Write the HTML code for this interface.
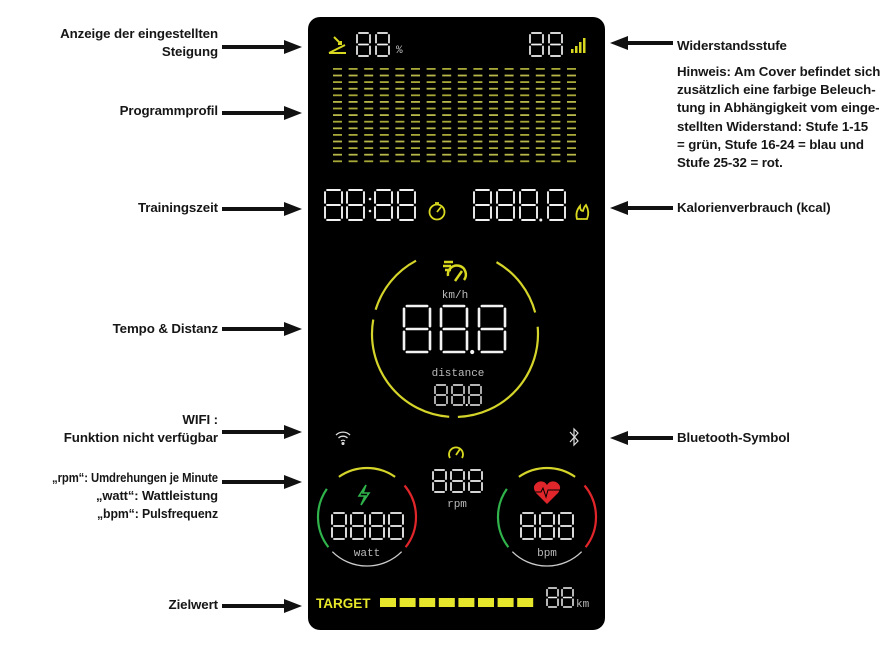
<!DOCTYPE html>
<html><head><meta charset="utf-8"><style>
html,body{margin:0;padding:0;background:#fff;width:895px;height:667px;overflow:hidden}
svg{display:block}
.l{font-family:"Liberation Sans",sans-serif;font-size:13.3px;fill:#161616;font-weight:bold;letter-spacing:-0.1px}
.s{font-family:"Liberation Mono",monospace;fill:#bbb;font-size:11px}
</style></head><body>
<svg id="s" width="895" height="667" viewBox="0 0 895 667">
<g class="l" text-anchor="end">
<text x="218" y="38">Anzeige der eingestellten</text>
<text x="218" y="56">Steigung</text>
<text x="218" y="115">Programmprofil</text>
<text x="218" y="212">Trainingszeit</text>
<text x="218" y="333">Tempo &amp; Distanz</text>
<text x="218" y="424">WIFI :</text>
<text x="218" y="442">Funktion nicht verfügbar</text>
<text x="218" y="482" textLength="166" lengthAdjust="spacingAndGlyphs">„rpm“: Umdrehungen je Minute</text>
<text x="218" y="500" textLength="122" lengthAdjust="spacingAndGlyphs">„watt“: Wattleistung</text>
<text x="218" y="518" textLength="121" lengthAdjust="spacingAndGlyphs">„bpm“: Pulsfrequenz</text>
<text x="218" y="609">Zielwert</text>
</g>
<g class="l">
<text x="677" y="50">Widerstandsstufe</text>
<text x="677" y="76">Hinweis: Am Cover befindet sich</text>
<text x="677" y="94">zusätzlich eine farbige Beleuch-</text>
<text x="677" y="112">tung in Abhängigkeit vom einge-</text>
<text x="677" y="131">stellten Widerstand: Stufe 1-15</text>
<text x="677" y="149">= grün, Stufe 16-24 = blau und</text>
<text x="677" y="167">Stufe 25-32 = rot.</text>
<text x="677" y="212">Kalorienverbrauch (kcal)</text>
<text x="677" y="442">Bluetooth-Symbol</text>
</g>
<g id="arrows" fill="#111"></g>
<rect x="308" y="17" width="297" height="613" rx="12" fill="#000"/>
<g id="prof"></g>
<g id="dig" fill="none" stroke="#f2f2f2" stroke-linecap="round"></g>
<g stroke="#d8d820" stroke-width="2" fill="none">
<path d="M329 53 L346 53 M329 53 L345 45 M334 37 L341 44 M338 44 L341 44 L341 41"/>
</g>
<text x="396" y="53" class="s" font-size="10">%</text>
<g fill="#d8d820"><rect x="571" y="49" width="2.5" height="4"/><rect x="575" y="46" width="2.5" height="7"/><rect x="579" y="42" width="2.5" height="11"/><rect x="583" y="38" width="2.5" height="15"/></g>
<g stroke="#d8d820" stroke-width="1.8" fill="none"><circle cx="437" cy="212" r="7.5"/><path d="M437 212 L441 207 M435 203 L439 203"/></g>
<path d="M577 219 Q575 212 580 206 Q580 211 583 211 Q584 207 586 205 Q590 212 587 219 Z" stroke="#d8d820" stroke-width="1.8" fill="none"/>
<g fill="none" stroke="#d4d42a" stroke-width="2.2">
<path id="c1"/><path id="c2"/><path id="c3"/><path id="c4"/>
</g>
<g stroke="#d8d820" stroke-width="2.5" fill="none"><path d="M444 262 L453 262 M443 266 L451 266 M445 270 L451 270 M448 276 A9 9 0 1 1 464 280 M455 281 L462 271"/></g>
<text x="455" y="298" class="s" text-anchor="middle" font-size="10">km/h</text>
<text x="458" y="376" class="s" text-anchor="middle" font-size="12">distance</text>
<g stroke="#ddd" stroke-width="1.3" fill="none"><path d="M336 435 A10 10 0 0 1 350 435 M338.5 438 A6.5 6.5 0 0 1 347.5 438 M341 441 A3 3 0 0 1 345 441"/><circle cx="343" cy="443.5" r="0.9" fill="#ddd"/></g>
<path d="M570 432 L578 441 L574 445 L574 429 L578 433 L570 442" stroke="#ddd" stroke-width="1.2" fill="none"/>
<g stroke="#d8d820" stroke-width="1.8" fill="none"><path d="M450 458 A7 7 0 1 1 462 458"/><path d="M456 455 L460 449"/></g>
<text x="457" y="507" class="s" text-anchor="middle" font-size="10">rpm</text>
<g fill="none" stroke-width="2.2" id="sc"></g>
<path d="M366 485 L359 496 L365 496 L361 505 L369 493 L363 493 Z" stroke="#2fb34a" stroke-width="1.6" fill="none"/>
<text x="367" y="556" class="s" text-anchor="middle" font-size="12" fill="#ddd">watt</text>
<path d="M547 504 L536 493 Q531 486 538 482 Q544 480 547 485 Q550 480 556 482 Q563 486 558 493 Z" fill="#e0262a"/>
<path d="M533 492 L541 492 L543 488 L546 497 L548 490 L560 490" stroke="#000" stroke-width="1" fill="none"/>
<text x="547" y="556" class="s" text-anchor="middle" font-size="12" fill="#ddd">bpm</text>
<text x="316" y="608" font-family="Liberation Sans,sans-serif" font-weight="bold" font-size="13.5" fill="#e6e62a">TARGET</text>
<g id="tb" fill="#e6e62a"></g>
<text x="576" y="607" class="s" font-size="9" fill="#aaa">km</text>
</svg>
<script>
const NS="http://www.w3.org/2000/svg";
function el(p,t,a){const e=document.createElementNS(NS,t);for(const k in a)e.setAttribute(k,a[k]);p.appendChild(e);return e;}
const ar=document.getElementById('arrows');
[47,113,209,329,432,482,606].forEach(y=>{el(ar,'rect',{x:222,y:y-2,width:64,height:4});el(ar,'path',{d:`M284 ${y-7} L302 ${y} L284 ${y+7}Z`});});
[43,208,438].forEach(y=>{el(ar,'rect',{x:626,y:y-2,width:47,height:4});el(ar,'path',{d:`M628 ${y-7} L610 ${y} L628 ${y+7}Z`});});
const pr=document.getElementById('prof');
for(let c=0;c<16;c++)for(let r=0;r<15;r++){el(pr,'rect',{x:333+c*15.6,y:68+r*6.6,width:9,height:1.8,fill:r%2?'#b8b84a':'#a8a838'});}
const dg=document.getElementById('dig');
function d(x,y,w,h,sw,dot){const g=sw*1.1;const m=y+h/2;
const segs=[[x+g,y,x+w-g,y],[x+g,m,x+w-g,m],[x+g,y+h,x+w-g,y+h],[x,y+g,x,m-g],[x+w,y+g,x+w,m-g],[x,m+g,x,y+h-g],[x+w,m+g,x+w,y+h-g]];
segs.forEach(s=>el(dg,'line',{x1:s[0],y1:s[1],x2:s[2],y2:s[3],'stroke-width':sw}));
if(dot)el(dg,'circle',{cx:x+w+sw*2,cy:y+h,r:sw*0.8,fill:'#f2f2f2',stroke:'none'});}
d(357,33,13,23,1.7);d(376,33,13,23,1.7);
d(530,33,13,23,1.7);d(549,33,13,23,1.7);
[325,347].forEach(x=>d(x,190,17,30,1.9));[375,398].forEach(x=>d(x,190,17,30,1.9));
el(dg,'circle',{cx:370,cy:199,r:1.3,fill:'#f2f2f2',stroke:'none'});el(dg,'circle',{cx:370,cy:211,r:1.3,fill:'#f2f2f2',stroke:'none'});
d(474,190,17,30,1.9);d(497,190,17,30,1.9);d(520,190,17,30,1.9,1);d(548,190,17,30,1.9);
d(404,306,26,46,2.6);d(441,306,26,46,2.6,1);d(479,306,26,46,2.6);
d(435,385,12,20,1.4);d(452,385,12,20,1.4,1);d(469,385,12,20,1.4);
d(433,470,13,22,1.7);d(451,470,13,22,1.7);d(469,470,13,22,1.7);
[332,351,370,389].forEach(x=>d(x,513,14,26,1.8));
[521,540,559].forEach(x=>d(x,513,14,26,1.8));
d(547,588,11,19,1.5);d(562,588,11,19,1.5);
function arc(cx,cy,r,a1,a2){const p=a=>[cx+r*Math.cos(a*Math.PI/180),cy+r*Math.sin(a*Math.PI/180)];const s=p(a1),e=p(a2);const lg=((a2-a1+360)%360)>180?1:0;return `M${s[0]} ${s[1]} A${r} ${r} 0 ${lg} 1 ${e[0]} ${e[1]}`;}
document.getElementById('c1').setAttribute('d',arc(455,334,83,-60,-15));
document.getElementById('c2').setAttribute('d',arc(455,334,83,-5,88));
document.getElementById('c3').setAttribute('d',arc(455,334,83,94,190));
document.getElementById('c4').setAttribute('d',arc(455,334,83,197,242));
const sc=document.getElementById('sc');
[[367,'#2fb34a','#e0262a'],[547,'#2fb34a','#e0262a']].forEach(([cx,g,r])=>{
el(sc,'path',{d:arc(cx,517,49,142,215),stroke:g});
el(sc,'path',{d:arc(cx,517,49,-125,-55),stroke:'#d4d42a'});
el(sc,'path',{d:arc(cx,517,49,-40,38),stroke:r});
el(sc,'path',{d:arc(cx,517,49,45,135),stroke:'#ccc','stroke-width':1.3});});
const tb=document.getElementById('tb');
for(let i=0;i<8;i++)el(tb,'rect',{x:380+i*19.6,y:598,width:16,height:9});
</script>
</body></html>
